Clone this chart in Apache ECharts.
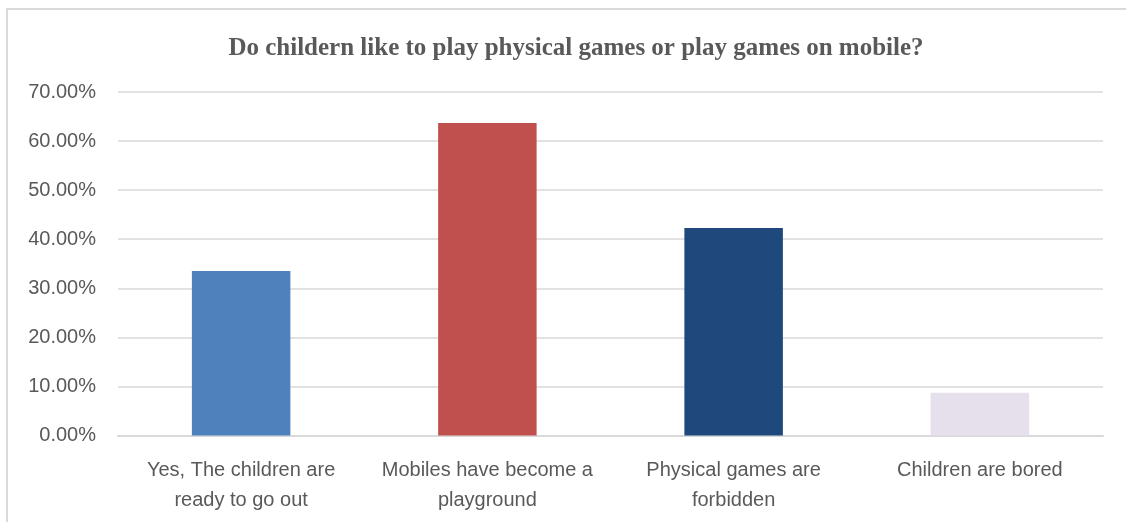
<!DOCTYPE html>
<html>
<head>
    <title>Do childern like to play physical games or play games on mobile?</title>
    <script src="https://cdn.jsdelivr.net/npm/echarts@6/dist/echarts.min.js"></script>
    <style>
        body {
            margin: 0;
            padding: 0;
            background-color: #ffffff;
        }
        .frame {
            position: absolute;
            left: 6px;
            top: 8px;
            width: 1120px;
            height: 514px;
            border-top: 2px solid #d9d9d9;
            border-left: 2px solid #d9d9d9;
        }
        #chart {
            position: absolute;
            left: 0;
            top: 0;
            width: 1126px;
            height: 522px;
        }
    </style>
</head>
<body>
    <div class="frame"></div>
    <div id="chart"></div>

    <script>
        var categories = [
            'Yes, The children are\nready to go out',
            'Mobiles have become a\nplayground',
            'Physical games are\nforbidden',
            'Children are bored'
        ];
        var percentages = [33.5, 63.7, 42.3, 8.7];
        var barColors = ['#4f81bd', '#c0504d', '#1f497d', '#e6e0ec'];

        var chart = echarts.init(document.getElementById('chart'));

        var option = {
            animation: false,
            title: {
                text: 'Do childern like to play physical games or play games on mobile?',
                left: 571,
                top: 24,
                textAlign: 'center',
                textStyle: {
                    fontFamily: 'Liberation Serif',
                    fontWeight: 'bold',
                    fontSize: 25,
                    color: '#595959'
                }
            },
            grid: {
                left: 118,
                right: 23,
                top: 92,
                bottom: 86.5
            },
            xAxis: {
                type: 'category',
                data: categories,
                axisTick: { show: false },
                axisLine: {
                    lineStyle: { color: '#d9d9d9', width: 2 }
                },
                axisLabel: {
                    interval: 0,
                    margin: 20,
                    fontFamily: 'Liberation Sans',
                    fontSize: 20,
                    lineHeight: 30,
                    color: '#595959'
                }
            },
            yAxis: {
                type: 'value',
                min: 0,
                max: 70,
                interval: 10,
                axisLine: { show: false },
                axisTick: { show: false },
                splitLine: {
                    lineStyle: { color: '#d9d9d9', width: 1.5 }
                },
                axisLabel: {
                    margin: 22,
                    fontFamily: 'Liberation Sans',
                    fontSize: 20,
                    color: '#595959',
                    formatter: function (v) { return v.toFixed(2) + '%'; }
                }
            },
            series: [{
                type: 'bar',
                barWidth: '40%',
                data: percentages.map(function (v, i) {
                    return { value: v, itemStyle: { color: barColors[i] } };
                })
            }]
        };

        chart.setOption(option);
    </script>
</body>
</html>
